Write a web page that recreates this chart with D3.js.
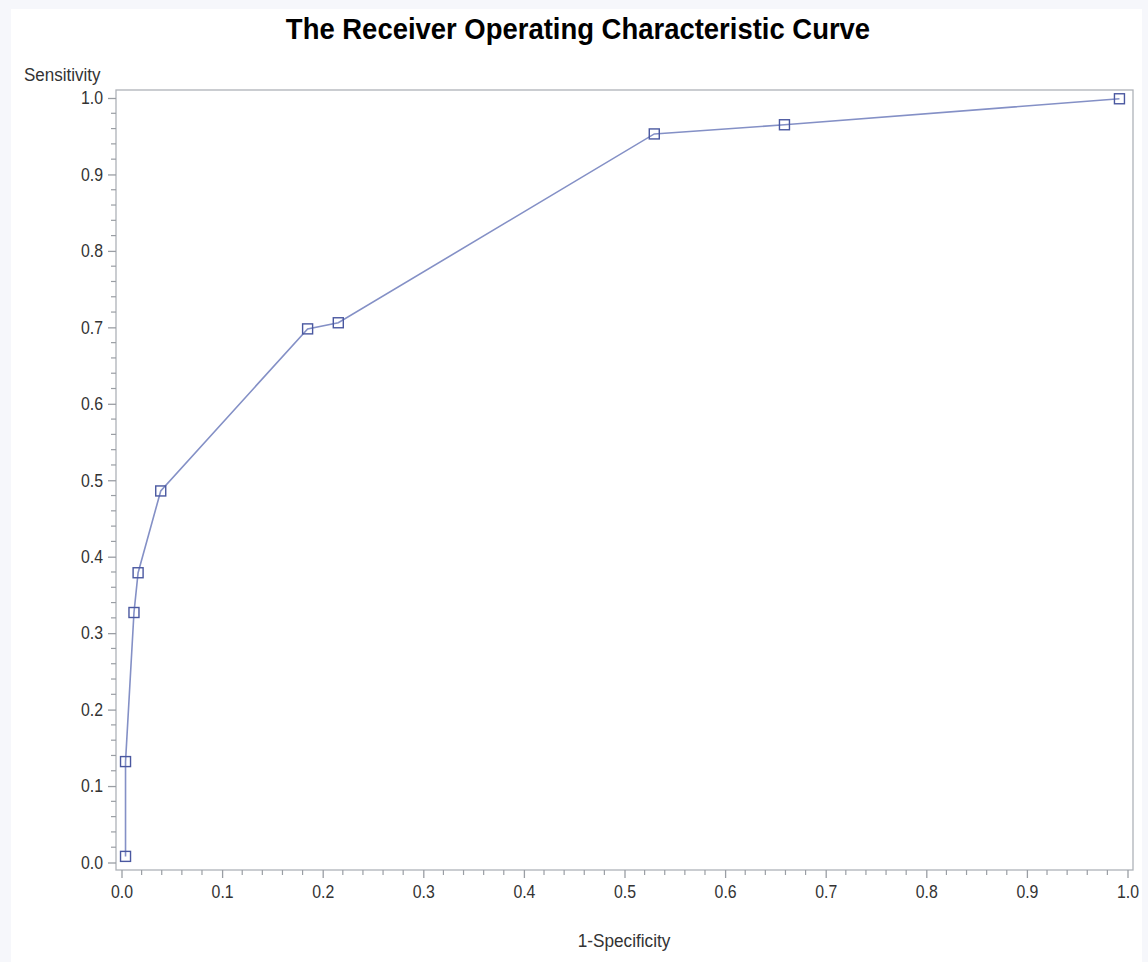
<!DOCTYPE html>
<html>
<head>
<meta charset="utf-8">
<script src="https://cdn.jsdelivr.net/npm/d3@7"></script>
<style>
  html, body { margin: 0; padding: 0; background: #f6f7fb; }
  svg { display: block; }
  text { font-family: "Liberation Sans", Arial, sans-serif; fill: #333; transform-box: fill-box; }
</style>
</head>
<body>
<script>
// ROC curve points: false positive rate (1-specificity) vs. true positive rate (sensitivity)
const fpr = [0.004, 0.004, 0.0124, 0.0165, 0.039, 0.185, 0.2155, 0.5296, 0.659, 0.992];
const tpr = [0.008, 0.132, 0.327, 0.379, 0.486, 0.698, 0.706, 0.953, 0.965, 0.999];
const xTicks = [0, 0.1, 0.2, 0.3, 0.4, 0.5, 0.6, 0.7, 0.8, 0.9, 1.0];
const yTicks = [0, 0.1, 0.2, 0.3, 0.4, 0.5, 0.6, 0.7, 0.8, 0.9, 1.0];
const titleText = "The Receiver Operating Characteristic Curve";
const xLabel = "1-Specificity";
const yLabel = "Sensitivity";

const W = 1148, H = 962;
const svg = d3.select("body").append("svg").attr("width", W).attr("height", H);

// white page area
svg.append("rect").attr("x", 11).attr("y", 9).attr("width", 1131).attr("height", H - 9)
  .attr("fill", "#fff");

// plot frame
const frame = { left: 116, top: 90, right: 1133, bottom: 870 };
const x = d3.scaleLinear().domain([0, 1]).range([121.5, 1127.5]);
const y = d3.scaleLinear().domain([0, 1]).range([862.5, 98]);

svg.append("rect")
  .attr("x", frame.left).attr("y", frame.top)
  .attr("width", frame.right - frame.left).attr("height", frame.bottom - frame.top)
  .attr("fill", "none").attr("stroke", "#aeb2b8").attr("stroke-width", 1.3);

const fmt = d3.format(".1f");
const minor = d3.range(0, 1.0001, 0.02);

// narrow text rendering
function narrow(sel, sx, origin) {
  sel.style("transform-box", "fill-box")
     .style("transform-origin", origin)
     .style("transform", `scaleX(${sx})`);
}

// x axis
const xAxis = d3.axisBottom(x).tickValues(xTicks).tickFormat(fmt).tickSize(8).tickPadding(7);
const gx = svg.append("g").attr("transform", `translate(0,${frame.bottom})`).call(xAxis);
gx.select(".domain").remove();
gx.selectAll(".tick line").attr("stroke", "#9a9ea4").attr("stroke-width", 1.3);
gx.selectAll(".tick text").attr("font-size", 18).attr("fill", "#333")
  .attr("font-family", "Liberation Sans, Arial, sans-serif")
  .call(narrow, 0.88, "center center");
svg.append("g").attr("transform", `translate(0,${frame.bottom})`)
  .selectAll("line").data(minor.filter(v => xTicks.every(t => Math.abs(t - v) > 1e-6)))
  .join("line")
  .attr("x1", d => x(d)).attr("x2", d => x(d)).attr("y1", 0).attr("y2", 5)
  .attr("stroke", "#9a9ea4").attr("stroke-width", 1.2);

// y axis
const yAxis = d3.axisLeft(y).tickValues(yTicks).tickFormat(fmt).tickSize(8).tickPadding(5);
const gy = svg.append("g").attr("transform", `translate(${frame.left},0)`).call(yAxis);
gy.select(".domain").remove();
gy.selectAll(".tick line").attr("stroke", "#9a9ea4").attr("stroke-width", 1.3);
gy.selectAll(".tick text").attr("font-size", 18).attr("fill", "#333")
  .attr("font-family", "Liberation Sans, Arial, sans-serif")
  .call(narrow, 0.88, "right center");
svg.append("g").attr("transform", `translate(${frame.left},0)`)
  .selectAll("line").data(minor.filter(v => yTicks.every(t => Math.abs(t - v) > 1e-6)))
  .join("line")
  .attr("x1", -5).attr("x2", 0).attr("y1", d => y(d)).attr("y2", d => y(d))
  .attr("stroke", "#9a9ea4").attr("stroke-width", 1.2);

// axis labels and title
svg.append("text").attr("x", 624).attr("y", 947).attr("text-anchor", "middle")
  .attr("font-size", 18.5).text(xLabel).call(narrow, 0.93, "center center");
svg.append("text").attr("x", 24).attr("y", 81).attr("text-anchor", "start")
  .attr("font-size", 18.5).text(yLabel).call(narrow, 0.92, "left center");
svg.append("text").attr("x", 578).attr("y", 39).attr("text-anchor", "middle")
  .attr("font-size", 30).attr("font-weight", "bold")
  .style("fill", "#000").text(titleText).call(narrow, 0.915, "center center");

// curve
const pts = fpr.map((v, i) => [v, tpr[i]]);
const line = d3.line().x(d => x(d[0])).y(d => y(d[1]));
svg.append("path").datum(pts).attr("d", line)
  .attr("fill", "none").attr("stroke", "#8490c6").attr("stroke-width", 1.6);

// square markers
const s = 10;
svg.append("g").selectAll("rect").data(pts).join("rect")
  .attr("x", d => x(d[0]) - s / 2).attr("y", d => y(d[1]) - s / 2)
  .attr("width", s).attr("height", s)
  .attr("fill", "none").attr("stroke", "#4a58a0").attr("stroke-width", 1.4);
</script>
</body>
</html>
